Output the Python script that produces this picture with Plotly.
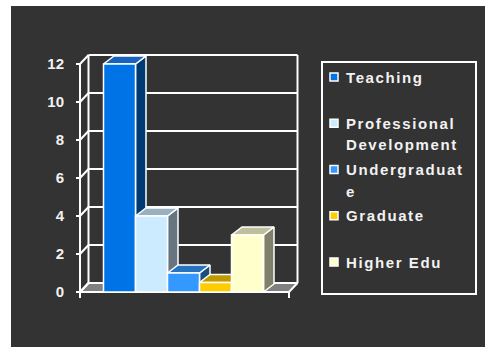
import plotly.graph_objects as go

# ---------------- data ----------------
categories = ["Teaching", "Professional Development", "Undergraduate", "Graduate", "Higher Edu"]
legend_labels = ["Teaching", "Professional<br>Development", "Undergraduat<br>e", "Graduate", "Higher Edu"]
values = [12, 4, 1, 0.5, 3]
y_ticks = [0, 2, 4, 6, 8, 10, 12]
y_max = 12

# ---------------- styles ----------------
front_colors = ["#0073E6", "#CCEBFF", "#3399FF", "#FFCC00", "#FFFFCC"]
top_colors = ["#1A62BF", "#99B0BF", "#2673C0", "#BF9900", "#BFBF99"]
side_colors = ["#003A73", "#667580", "#1A4D80", "#806600", "#80806A"]
BG = "#333333"
FLOOR = "#808080"
TEXT = "#f2f2f2"
W, H = 485, 347

# plot area in pixels and scale
L, R, T, B = 70, 300, 50, 300
PX_X, PX_Y = 32.0, 19.0          # pixels per x-unit / y-unit
x0 = (L - 119.5) / PX_X
x1 = x0 + (R - L) / PX_X
y0 = -(B - 292) / PX_Y
y1 = y0 + (B - T) / PX_Y

xl = (80 - 119.5) / PX_X          # front-left wall
xr = (289 - 119.5) / PX_X         # front-right edge of floor
wdx, wdy = 8.5 / PX_X, 9.0 / PX_Y  # wall depth
bdx, bdy = 10.5 / PX_X, 8.0 / PX_Y # bar depth
tick_x = 4 / PX_X
tick_y = 6 / PX_Y

fig = go.Figure()

def poly(xs, ys, fill, lw=1.5):
    fig.add_trace(go.Scatter(
        x=xs + [xs[0]], y=ys + [ys[0]], mode="lines", fill="toself",
        fillcolor=fill, line=dict(color="white", width=lw),
        hoverinfo="skip", showlegend=False, cliponaxis=False))

# floor
poly([xl, xr, xr + wdx, xl + wdx], [0, 0, wdy, wdy], FLOOR, 2)

# walls / gridlines
lx, ly = [], []
for t in y_ticks:
    lx += [xl + wdx, xr + wdx, None]; ly += [t + wdy, t + wdy, None]      # back grid
    lx += [xl, xl + wdx, None]; ly += [t, t + wdy, None]                  # left wall diagonal
    lx += [xl - tick_x, xl, None]; ly += [t, t, None]                     # tick
lx += [xl + wdx, xl + wdx, None]; ly += [wdy, y_max + wdy, None]
lx += [xr + wdx, xr + wdx, None]; ly += [wdy, y_max + wdy, None]
lx += [xl, xl, None]; ly += [0, y_max, None]
lx += [xl, xr, None]; ly += [0, 0, None]
lx += [xl, xl, None]; ly += [0, -tick_y, None]
lx += [xr, xr, None]; ly += [0, -tick_y, None]
fig.add_trace(go.Scatter(x=lx, y=ly, mode="lines", line=dict(color="white", width=2),
                         hoverinfo="skip", showlegend=False, cliponaxis=False))

# 3D bars
for i, (name, v) in enumerate(zip(categories, values)):
    a, b = i - 0.5, i + 0.5
    poly([b, b + bdx, b + bdx, b], [0, bdy, v + bdy, v], side_colors[i])
    poly([a, b, b + bdx, a + bdx], [v, v, v + bdy, v + bdy], top_colors[i])
    poly([a, b, b, a], [0, 0, v, v], front_colors[i])

# ---------------- layout ----------------
def px2paper(px, py):
    return (px - L) / (R - L), (B - py) / (B - T)

shapes = []
bx0, by0 = px2paper(11, 6)
bx1, by1 = px2paper(W + 5, H + 5)
shapes.append(dict(type="rect", xref="paper", yref="paper", x0=bx0, y0=by1, x1=bx1, y1=by0,
                   fillcolor=BG, line=dict(width=0), layer="below"))
lx0, ly0 = px2paper(322, 62)
lx1, ly1 = px2paper(476, 294)
shapes.append(dict(type="rect", xref="paper", yref="paper", x0=lx0, y0=ly1, x1=lx1, y1=ly0,
                   line=dict(color="white", width=2), fillcolor="rgba(0,0,0,0)"))

annotations = []
for i, lab in enumerate(legend_labels):
    cy = 77 + 46.25 * i
    sx0, sy0 = px2paper(330, cy - 4)
    sx1, sy1 = px2paper(338, cy + 4)
    shapes.append(dict(type="rect", xref="paper", yref="paper", x0=sx0, y0=sy1, x1=sx1, y1=sy0,
                       fillcolor=front_colors[i], line=dict(color="white", width=1.5)))
    for j, line in enumerate(lab.split("<br>")):
        tx, ty = px2paper(344, cy + 21.5 * j)
        annotations.append(dict(xref="paper", yref="paper", x=tx, y=ty, text=line,
                                showarrow=False, xanchor="left", yanchor="middle", align="left",
                                font=dict(family="Liberation Sans, Arial", size=15, color=TEXT, weight="bold")))

fig.update_layout(
    width=W, height=H,
    margin=dict(l=L, r=W - R, t=T, b=H - B, pad=0),
    paper_bgcolor="white", plot_bgcolor="rgba(0,0,0,0)",
    showlegend=False,
    xaxis=dict(range=[x0, x1], visible=False, fixedrange=True),
    yaxis=dict(range=[y0, y1], tickvals=y_ticks, ticktext=[str(t) for t in y_ticks],
               showgrid=False, zeroline=False, showline=False, ticks="",
               ticklabelstandoff=5, fixedrange=True,
               tickfont=dict(family="Liberation Sans, Arial", size=15, color=TEXT, weight="bold")),
    shapes=shapes, annotations=annotations,
)

fig.write_html("out.html", config={"displayModeBar": False},
               post_script="document.querySelectorAll('.annotation-text').forEach(function(t){t.style.letterSpacing='1.6px';});")
